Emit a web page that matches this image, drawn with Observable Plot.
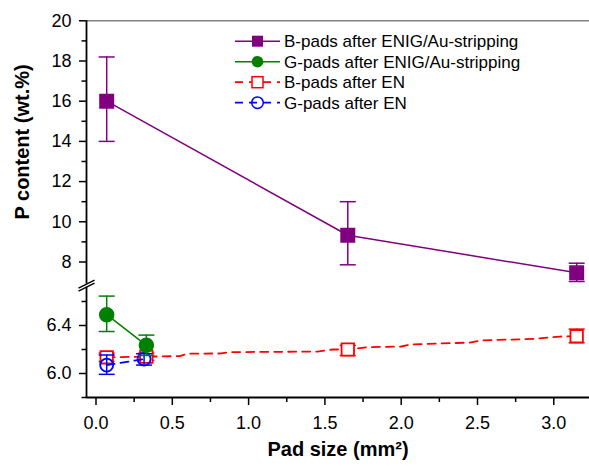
<!DOCTYPE html>
<html>
<head>
<meta charset="utf-8">
<script src="https://cdn.jsdelivr.net/npm/d3@7"></script>
<script src="https://cdn.jsdelivr.net/npm/@observablehq/plot@0.6"></script>
<style>
html, body { margin: 0; padding: 0; background: #fff; }
#wrap { position: relative; width: 589px; height: 466px; font-family: "Liberation Sans", Arial, Helvetica, sans-serif; }
#wrap svg.legend { position: absolute; left: 0; top: 0; pointer-events: none; }
</style>
</head>
<body>
<div id="wrap"></div>
<script>
// ---------- data ----------
const seriesNames = [
  "B-pads after ENIG/Au-stripping",
  "G-pads after ENIG/Au-stripping",
  "B-pads after EN",
  "G-pads after EN"
];
const seriesColors = ["#800080", "#008000", "#ff0000", "#0000ff"];

// B-pads after ENIG/Au-stripping (purple filled squares)
const bEnigX  = [0.07, 1.65, 3.15];
const bEnigY  = [16.0, 9.33, 7.46];
const bEnigLo = [14.0, 7.86, 7.03];
const bEnigHi = [18.2, 11.0, 7.94];

// G-pads after ENIG/Au-stripping (green filled circles)
const gEnigX  = [0.07, 0.33];
const gEnigY  = [6.49, 6.235];
const gEnigLo = [6.35, 6.15];
const gEnigHi = [6.645, 6.32];

// B-pads after EN (red open squares)
const bEnX  = [0.07, 0.33, 1.65, 3.15];
const bEnY  = [6.135, 6.14, 6.2, 6.311];
const bEnLo = [6.10, 6.11, 6.15, 6.256];
const bEnHi = [6.17, 6.17, 6.235, 6.37];
// the dashed red connecting line (vertices)
const bEnLineX = [0.07, 0.33, 0.55, 0.60, 0.82, 0.88, 1.45, 1.55, 1.65, 1.78, 2.00, 2.06, 2.45, 2.52, 2.87, 3.04, 3.15];
const bEnLineY = [6.135, 6.14, 6.145, 6.165, 6.167, 6.178, 6.183, 6.20, 6.20, 6.219, 6.225, 6.242, 6.258, 6.275, 6.289, 6.308, 6.311];

// G-pads after EN (blue open circles)
const gEnX  = [0.07, 0.315];
const gEnY  = [6.07, 6.12];
const gEnLo = [5.993, 6.07];
const gEnHi = [6.154, 6.165];

// ticks
const xMajor = [0, 0.5, 1.0, 1.5, 2.0, 2.5, 3.0];
const xMinor = [0.25, 0.75, 1.25, 1.75, 2.25, 2.75];
const yMajor = [6.0, 6.4, 8, 10, 12, 14, 16, 18, 20];
const yMinor = [5.8, 6.2, 6.6, 9, 11, 13, 15, 17, 19];

const xTitle = "Pad size (mm²)";
const yTitle = "P content (wt.%)";

// ---------- broken y axis: piecewise linear mapping into a display coordinate ----------
const LOW_MIN = 5.8, LOW_MAX = 6.72, LOW_K = 120;        // lower segment
const UP_MIN = 6.9, UP_MAX = 20, UP_K = 20.1, UP_BASE = 113.4; // upper segment
const ty = v => v < 6.8 ? (v - LOW_MIN) * LOW_K : UP_BASE + (v - UP_MIN) * UP_K;
const Y_TOP = 377;

const xMin = -0.0623, xMax = 3.234;
const W = 589, H = 466, ML = 86, MR = 0, MT = 20, MB = 69;
const pxPerX = (W - ML - MR) / (xMax - xMin);

const rows = (X, Y, Lo, Hi) => X.map((x, i) => ({x, y: ty(Y[i]), lo: ty(Lo[i]), hi: ty(Hi[i])}));
const caps = R => R.flatMap(d => [{x: d.x, y: d.lo}, {x: d.x, y: d.hi}]);

const bEnig = rows(bEnigX, bEnigY, bEnigLo, bEnigHi);
const gEnig = rows(gEnigX, gEnigY, gEnigLo, gEnigHi);
const bEn = rows(bEnX, bEnY, bEnLo, bEnHi);
const gEn = rows(gEnX, gEnY, gEnLo, gEnHi);
const bEnLine = bEnLineX.map((x, i) => ({x, y: ty(bEnLineY[i])}));

const yLabel = v => v < 7 ? v.toFixed(1) : String(v);
const majorLabels = new Map(yMajor.map(v => [ty(v), yLabel(v)]));

const capSymbol = {
  draw(context, size) {
    const h = Math.sqrt(size / Math.PI);
    context.moveTo(-h, 0);
    context.lineTo(h, 0);
  }
};

const errMarks = (R, color) => [
  Plot.ruleX(R, {x: "x", y1: "lo", y2: "hi", stroke: color, strokeWidth: 1.5}),
  Plot.dot(caps(R), {x: "x", y: "y", symbol: capSymbol, r: 8, stroke: color, strokeWidth: 1.5, fill: "none"})
];

const breaks = [ty(UP_MIN), ty(LOW_MAX)];

const chart = Plot.plot({
  width: W, height: H,
  marginLeft: ML, marginRight: MR, marginTop: MT, marginBottom: MB,
  x: {domain: [xMin, xMax], label: null},
  y: {domain: [0, Y_TOP], label: null},
  style: {fontFamily: "'Liberation Sans', Arial, Helvetica, sans-serif", fontSize: "18px", color: "black", background: "white", overflow: "visible"},
  marks: [
    // top border (gray)
    Plot.ruleY([ty(UP_MAX)], {stroke: "#808080", strokeWidth: 1.5}),
    // axes
    Plot.axisY(yMajor.map(ty), {anchor: "left", tickSize: 7, tickPadding: 8, strokeWidth: 1.5, fontSize: 18, tickFormat: d => majorLabels.get(d), label: null}),
    Plot.axisY(yMinor.map(ty), {anchor: "left", tickSize: 4.5, strokeWidth: 1.5, tickFormat: () => "", label: null}),
    Plot.axisX(xMajor, {anchor: "bottom", tickSize: 8, tickPadding: 11, strokeWidth: 1.5, fontSize: 18, tickFormat: d => d.toFixed(1), label: null}),
    Plot.axisX(xMinor, {anchor: "bottom", tickSize: 5, strokeWidth: 1.5, tickFormat: () => "", label: null}),
    Plot.ruleX([{y1: 0, y2: ty(LOW_MAX)}, {y1: ty(UP_MIN), y2: ty(UP_MAX)}], {x: xMin, y1: "y1", y2: "y2", strokeWidth: 1.8}),
    Plot.ruleY([0], {strokeWidth: 1.8}),
    Plot.link(breaks, {x1: xMin - 8 / pxPerX, x2: xMin + 8 / pxPerX, y1: d => d - 4, y2: d => d + 4, stroke: "black", strokeWidth: 1.5}),
    // B-pads after EN
    Plot.line(bEnLine, {x: "x", y: "y", stroke: seriesColors[2], strokeWidth: 1.8, strokeDasharray: "8,6"}),
    ...errMarks(bEn, seriesColors[2]),
    Plot.dot(bEn, {x: "x", y: "y", symbol: "square", r: 7, stroke: seriesColors[2], strokeWidth: 1.8, fill: "white"}),
    // G-pads after EN
    Plot.line(gEn, {x: "x", y: "y", stroke: seriesColors[3], strokeWidth: 1.8, strokeDasharray: "8,6"}),
    ...errMarks(gEn, seriesColors[3]),
    Plot.dot(gEn, {x: "x", y: "y", symbol: "circle", r: 6.5, stroke: seriesColors[3], strokeWidth: 1.8, fill: "none"}),
    // G-pads after ENIG
    Plot.line(gEnig, {x: "x", y: "y", stroke: seriesColors[1], strokeWidth: 1.5}),
    ...errMarks(gEnig, seriesColors[1]),
    Plot.dot(gEnig, {x: "x", y: "y", symbol: "circle", r: 7, stroke: seriesColors[1], fill: seriesColors[1]}),
    // B-pads after ENIG
    Plot.line(bEnig, {x: "x", y: "y", stroke: seriesColors[0], strokeWidth: 1.5}),
    ...errMarks(bEnig, seriesColors[0]),
    Plot.dot(bEnig, {x: "x", y: "y", symbol: "square", r: 7.6, stroke: seriesColors[0], fill: seriesColors[0]}),
    // titles
    Plot.text([xTitle], {text: d => d, frameAnchor: "bottom", dy: 58, fontWeight: "bold", fontSize: 20}),
    Plot.text([yTitle], {text: d => d, frameAnchor: "left", dx: -64, dy: 10.5, rotate: -90, fontWeight: "bold", fontSize: 20})
  ]
});

const wrap = document.getElementById("wrap");
wrap.appendChild(chart);

// ---------- legend (inside the plot area, top right) ----------
const legend = d3.select(wrap).append("svg")
  .attr("class", "legend")
  .attr("width", W).attr("height", H);
const lx0 = 235, lx1 = 280, lmx = 257.5, ltx = 284, ly0 = 41.2, lstep = 20.5;
seriesNames.forEach((name, i) => {
  const y = ly0 + i * lstep;
  const c = seriesColors[i];
  const dashed = i >= 2;
  const g = legend.append("g");
  g.append("line").attr("x1", lx0).attr("x2", lx1).attr("y1", y).attr("y2", y)
    .attr("stroke", c).attr("stroke-width", dashed ? 1.8 : 1.5)
    .attr("stroke-dasharray", dashed ? "8,6" : null);
  if (i === 0) g.append("rect").attr("x", lmx - 5.5).attr("y", y - 5.5).attr("width", 11).attr("height", 11).attr("fill", c);
  if (i === 1) g.append("circle").attr("cx", lmx).attr("cy", y).attr("r", 5.8).attr("fill", c);
  if (i === 2) g.append("rect").attr("x", lmx - 5.5).attr("y", y - 5.5).attr("width", 11).attr("height", 11).attr("fill", "white").attr("stroke", c).attr("stroke-width", 1.5);
  if (i === 3) g.append("circle").attr("cx", lmx).attr("cy", y).attr("r", 5.8).attr("fill", "none").attr("stroke", c).attr("stroke-width", 1.5);
  g.append("text").attr("x", ltx).attr("y", y).attr("dy", "0.35em")
    .attr("font-family", "'Liberation Sans', Arial, Helvetica, sans-serif")
    .attr("font-size", 17).attr("fill", "black").text(name);
});
</script>
</body>
</html>
